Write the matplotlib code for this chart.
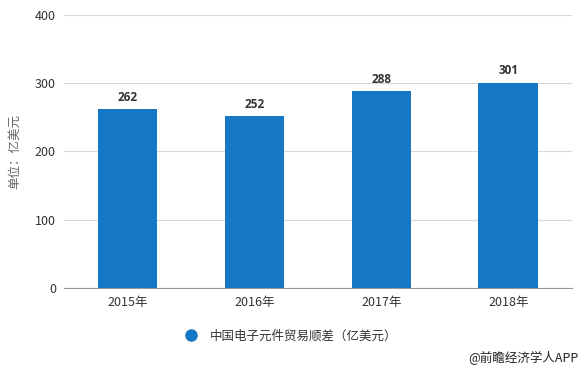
import matplotlib
matplotlib.use("Agg")
import matplotlib.pyplot as plt
from matplotlib.lines import Line2D

plt.rcParams["font.family"] = ["Noto Sans CJK SC", "DejaVu Sans"]

years = ["2015年", "2016年", "2017年", "2018年"]
trade_surplus = [262, 252, 288, 301]
y_ticks = [0, 100, 200, 300, 400]

BAR_COLOR = "#1677c4"
TEXT_COLOR = "#333333"
GRID_COLOR = "#d9d9d9"

fig = plt.figure(figsize=(5.84, 3.71), dpi=100)
ax = fig.add_axes([0.110, 0.2237, 0.869, 0.736])

x = range(len(years))
bars = ax.bar(x, trade_surplus, width=0.47, color=BAR_COLOR, zorder=3)
for rect, val in zip(bars, trade_surplus):
    ax.text(rect.get_x() + rect.get_width() / 2, val + 8, f"{val}",
            ha="center", va="bottom", fontsize=8.5, fontweight="bold",
            color=TEXT_COLOR, family=["Open Sans", "DejaVu Sans"])

ax.set_xlim(-0.5, len(years) - 0.5)
ax.set_ylim(0, 400)
ax.set_yticks(y_ticks)
ax.set_xticks(list(x))
ax.set_xticklabels(years)
ax.grid(True, axis="y", color=GRID_COLOR, linewidth=0.8, zorder=0)
ax.tick_params(axis="both", length=0, labelsize=9, colors=TEXT_COLOR, pad=6)
for side in ("top", "right", "left"):
    ax.spines[side].set_visible(False)
ax.spines["bottom"].set_color("#999999")
ax.spines["bottom"].set_linewidth(0.8)
ax.set_ylabel("单位：亿美元", fontsize=9, color="#666666", labelpad=10)

handle = Line2D([], [], marker="o", linestyle="none", markersize=8,
                markerfacecolor=BAR_COLOR, markeredgecolor=BAR_COLOR)
fig.legend([handle], ["中国电子元件贸易顺差（亿美元）"], loc="center",
           bbox_to_anchor=(0.493, 0.095), frameon=False, fontsize=9,
           handletextpad=0.5, labelcolor=TEXT_COLOR)

fig.text(0.99, 0.035, "@前瞻经济学人APP", ha="right", va="center",
         fontsize=9, color="#222222")

fig.savefig("out.png", dpi=100)
